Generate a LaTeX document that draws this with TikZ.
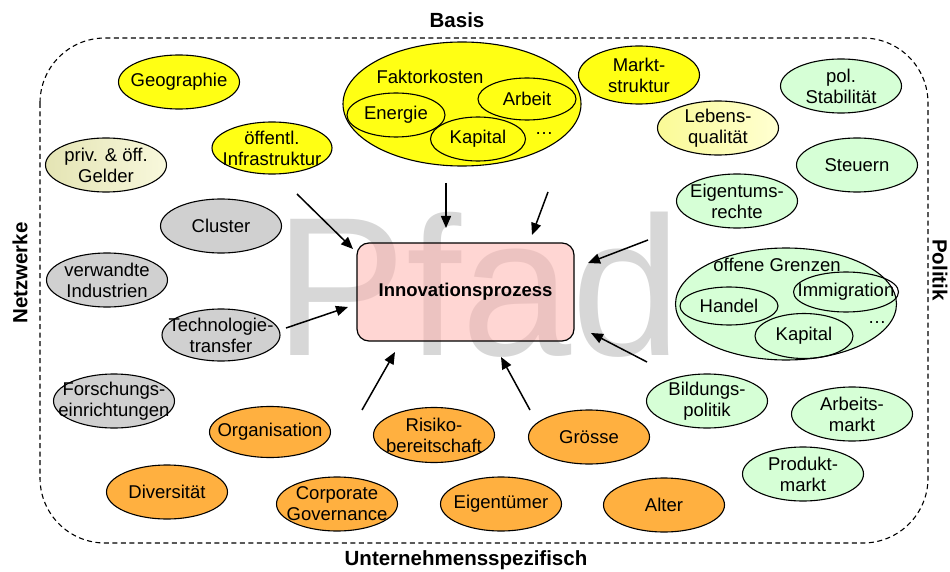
\documentclass[tikz,border=0pt]{standalone}
\usepackage{fontspec}
\setmainfont{Liberation Sans}
\usetikzlibrary{shapes.geometric,arrows.meta}

\definecolor{gelb}{RGB}{255,255,20}
\definecolor{grau}{RGB}{208,208,208}
\definecolor{firmaorange}{RGB}{255,176,64}
\definecolor{hellgruen}{RGB}{214,255,214}
\definecolor{rosa}{RGB}{255,180,175}
\definecolor{pfadgrau}{RGB}{215,215,215}

\tikzset{
	inhalt/.style={align=center, inner sep=0pt, font=\fontsize{18.5}{21}\selectfont},
	feld/.style={draw, ellipse, line width=1.1pt, inner sep=0pt,
		minimum width=121pt, minimum height=54pt, label={[inhalt]center:#1}},
	basis/.style={feld={#1}, fill=gelb},
	netz/.style={feld={#1}, fill=grau},
	firma/.style={feld={#1}, fill=firmaorange},
	politik/.style={feld={#1}, fill=hellgruen},
	teil/.style={feld={#1}, minimum width=98pt, minimum height=44pt},
	rand/.style={font=\bfseries\fontsize{20.5}{23}\selectfont},
	pfeil/.style={line width=1.5pt, -{Triangle[length=12pt,width=10pt]}},
}

\begin{document}
\begin{tikzpicture}[x=1pt, y=-1pt]
	\useasboundingbox (0,0) rectangle (950,572);
	
	%%% Hintergrund
	\node[text=pfadgrau, font=\fontsize{198}{198}\selectfont, anchor=base] (pfad) at (478,355) {Pfad};
	\draw[dashed, dash pattern=on 5pt off 3.5pt, line width=1.1pt, rounded corners=65pt] (40,38) rectangle (928,543);
	
	\node[rand] (basislabel) at (457,20) {Basis};
	\node[rand] (firmalabel) at (466,560) {Unternehmensspezifisch};
	\node[rand, rotate=90] (netzlabel) at (20,273) {Netzwerke};
	\node[rand, rotate=-90] (politiklabel) at (940,270) {Politik};
	
	%%% Prozess
	\node[draw, fill=rosa, fill opacity=.55, text opacity=1, rounded corners=12pt, line width=1.2pt,
		minimum width=217pt, minimum height=98pt, font=\bfseries\fontsize{18.5}{21}\selectfont]
		(prozess) at (465.5,292) {Innovationsprozess};
	
	%%% Pfeile
	\coordinate (a1) at (297,194); \coordinate (b1) at (353,249);
	\coordinate (a2) at (446,183); \coordinate (b2) at (446,228);
	\coordinate (a3) at (548,192); \coordinate (b3) at (532,235);
	\coordinate (a4) at (648,240); \coordinate (b4) at (588,263);
	\coordinate (a5) at (647,362); \coordinate (b5) at (591,333);
	\coordinate (a6) at (286,328); \coordinate (b6) at (348,307);
	\coordinate (a7) at (362,410); \coordinate (b7) at (395,352);
	\coordinate (a8) at (530,410); \coordinate (b8) at (501,357);
	\foreach \i in {1,...,8}
		\draw[pfeil] (a\i) -- (b\i);
	
	%%% Basis
	\node[basis=Geographie] (geographie) at (179,82) {};
	\node[basis=öffentl.\\Infrastruktur, minimum width=120pt, minimum height=52pt] (infrastruktur) at (272,148) {};
	\node[basis={}, minimum width=238pt, minimum height=124pt] (faktor) at (462,104) {};
	\node[inhalt] (faktortext) at (430,77) {Faktorkosten};
	\node[teil=Energie] (energie) at (396,115) {};
	\node[teil=Arbeit, minimum height=42pt] (arbeit) at (527,99) {};
	\node[teil=Kapital, minimum width=95pt] (kapital) at (478,139) {};
	\node[inhalt] (faktorrest) at (544,134) {…};
	\node[basis=Markt-\\struktur, minimum height=58pt] (markt) at (639,75) {};
	\node[feld=priv. \& öff.\\Gelder, left color={rgb,255:red,228;green,228;blue,180}, right color={rgb,255:red,248;green,248;blue,220}] (gelder) at (106,165) {};
	\node[feld=Lebens-\\qualität, left color={rgb,255:red,250;green,250;blue,150}, right color={rgb,255:red,255;green,255;blue,210}] (lebens) at (718,128) {};
	
	%%% Netzwerke
	\node[netz=Cluster] (cluster) at (221,226) {};
	\node[netz=verwandte\\Industrien] (industrien) at (107,280) {};
	\node[netz=Technologie-\\transfer, minimum width=118pt, minimum height=52pt] (technologie) at (221,335) {};
	\node[netz=Forschungs-\\einrichtungen] (forschung) at (114,401) {};
	
	%%% Unternehmensspezifisch
	\node[firma=Organisation, minimum height=51pt] (organisation) at (270,432) {};
	\node[firma=Diversität] (diversitaet) at (167,492) {};
	\node[firma=Corporate\\Governance] (governance) at (337,504) {};
	\node[firma=Risiko-\\bereitschaft, minimum height=55pt] (risiko) at (434,435) {};
	\node[firma=Grösse] (groesse) at (589,437) {};
	\node[firma=Eigentümer] (eigentuemer) at (501,504) {};
	\node[firma=Alter] (alter) at (664,505) {};
	
	%%% Politik
	\node[politik=pol.\\Stabilität] (stabilitaet) at (841,86) {};
	\node[politik=Steuern] (steuern) at (857,165) {};
	\node[politik=Eigentums-\\rechte] (eigentum) at (737,201) {};
	\node[politik={}, minimum width=221pt, minimum height=112pt] (grenzen) at (786,304) {};
	\node[inhalt] (grenzentext) at (777,265) {offene Grenzen};
	\node[teil=Handel, minimum height=38pt] (handel) at (729,306) {};
	\node[teil=Immigration, minimum width=105pt, minimum height=40pt] (immigration) at (846,292) {};
	\node[teil=Kapital, minimum height=45pt] (kapital2) at (804,336) {};
	\node[inhalt] (grenzenrest) at (877,323) {…};
	\node[politik=Bildungs-\\politik] (bildung) at (707,401) {};
	\node[politik=Arbeits-\\markt] (arbeitsmarkt) at (852,414) {};
	\node[politik=Produkt-\\markt] (produktmarkt) at (803,474) {};
\end{tikzpicture}
\end{document}
